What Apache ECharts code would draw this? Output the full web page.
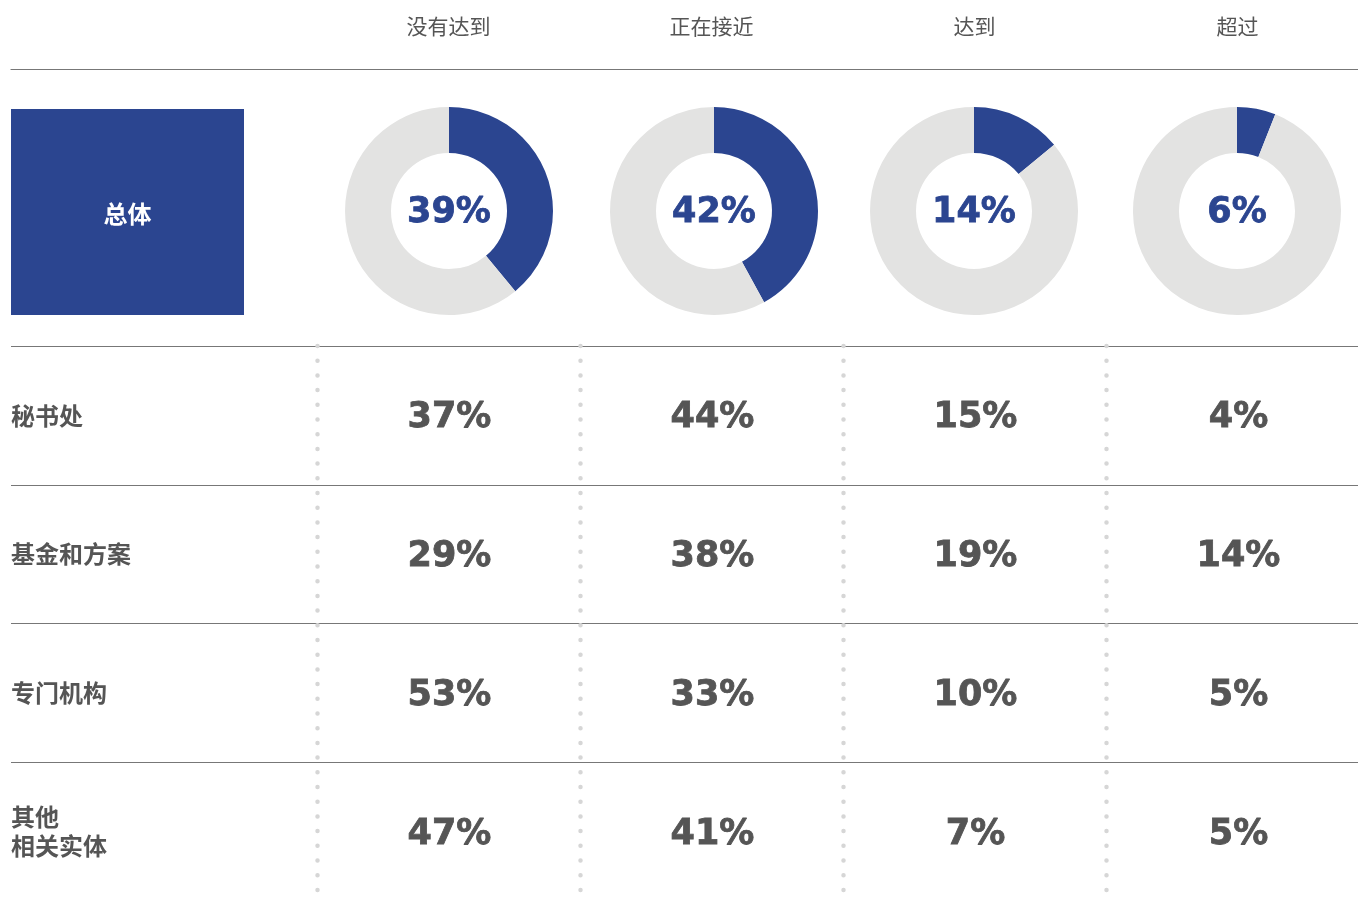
<!DOCTYPE html>
<html>
<head>
<meta charset="utf-8">
<script src="https://cdn.jsdelivr.net/npm/echarts@6/dist/echarts.min.js"></script>
<style>
  html, body { margin: 0; padding: 0; background: #fff; }
  #chart { width: 1358px; height: 897px; }
</style>
</head>
<body>
<div id="chart"></div>
<script>
// 列标题与各行数据（百分比）
const statuses = ['没有达到', '正在接近', '达到', '超过']
const overall = [39, 42, 14, 6]
const entities = ['秘书处', '基金和方案', '专门机构', '其他\n相关实体']
const secretariat = [37, 44, 15, 4]
const fundsProgrammes = [29, 38, 19, 14]
const specializedAgencies = [53, 33, 10, 5]
const otherEntities = [47, 41, 7, 5]

const rows = [secretariat, fundsProgrammes, specializedAgencies, otherEntities]
const blue = '#2b4590'
const grey = '#e3e3e2'
const textGrey = '#555555'
const numFont = 'DejaVu Sans'
const cjkFont = 'Noto Sans CJK SC'

const cellData = []
rows.forEach((row, r) => {
  row.forEach((v, c) => cellData.push([c, r, v]))
})

const pieCenters = [449, 714, 974, 1237]
const pies = overall.map((v, i) => ({
  type: 'pie',
  silent: true,
  center: [pieCenters[i], 211],
  radius: [58, 104],
  startAngle: 90,
  label: {
    position: 'center',
    formatter: '{c}%',
    color: blue,
    fontFamily: numFont,
    fontWeight: 'bold',
    fontSize: 35,
    textBorderColor: blue,
    textBorderWidth: 0.8,
    offset: [0, 2]
  },
  labelLine: { show: false },
  emphasis: { disabled: true },
  data: [
    { name: statuses[i], value: v, itemStyle: { color: blue } },
    { name: '其余', value: 100 - v, itemStyle: { color: grey }, label: { show: false } }
  ]
}))

const chart = echarts.init(document.getElementById('chart'))
chart.setOption({
  animation: false,
  grid: [
    // 数值单元格
    { left: 317, width: 1052, top: 346, height: 555, outerBoundsMode: 'none' },
    // 整行横线与行标题
    { left: 11, width: 1347, top: 346, height: 555, outerBoundsMode: 'none' }
  ],
  xAxis: [
    {
      type: 'category',
      gridIndex: 0,
      data: statuses,
      position: 'top',
      offset: 277,
      axisLine: { show: false },
      axisTick: { show: false },
      axisLabel: { margin: 32, color: textGrey, fontFamily: cjkFont, fontSize: 21 },
      splitLine: {
        show: true,
        lineStyle: { color: '#d6d6d6', width: 4.5, type: [0, 14.7], cap: 'round' }
      }
    },
    {
      type: 'value',
      gridIndex: 1,
      position: 'top',
      offset: 277,
      axisLine: { show: true, lineStyle: { color: '#777', width: 1.2 } },
      axisTick: { show: false },
      axisLabel: { show: false },
      splitLine: { show: false }
    }
  ],
  yAxis: [
    {
      type: 'category',
      gridIndex: 0,
      inverse: true,
      data: entities,
      axisLine: { show: false },
      axisTick: { show: false },
      axisLabel: { show: false },
      splitLine: { show: false }
    },
    {
      type: 'category',
      gridIndex: 1,
      inverse: true,
      data: entities,
      axisLine: { show: false },
      axisTick: { show: false },
      axisLabel: {
        inside: true,
        margin: 0,
        align: 'left',
        color: textGrey,
        fontFamily: cjkFont,
        fontWeight: 'bold',
        fontSize: 24,
        lineHeight: 29,
        padding: [8, 0, 0, 0]
      },
      splitLine: { show: true, lineStyle: { color: '#777', width: 1.2 } }
    }
  ],
  graphic: [
    {
      type: 'rect',
      shape: { x: 11, y: 109, width: 233, height: 206 },
      style: { fill: blue },
      silent: true
    },
    {
      type: 'text',
      x: 127.5,
      y: 214,
      style: {
        text: '总体',
        fill: '#fff',
        font: 'bold 24px "Noto Sans CJK SC"',
        align: 'center',
        verticalAlign: 'middle'
      },
      silent: true
    }
  ],
  series: [
    ...pies,
    {
      type: 'scatter',
      xAxisIndex: 0,
      yAxisIndex: 0,
      silent: true,
      symbolSize: 1,
      itemStyle: { color: 'rgba(0,0,0,0)', opacity: 1 },
      label: {
        show: true,
        position: 'inside',
        formatter: (p) => p.value[2] + '%',
        color: textGrey,
        fontFamily: numFont,
        fontWeight: 'bold',
        fontSize: 35,
        textBorderColor: textGrey,
        textBorderWidth: 0.8,
        offset: [1, 3]
      },
      data: cellData
    }
  ]
})
</script>
</body>
</html>
